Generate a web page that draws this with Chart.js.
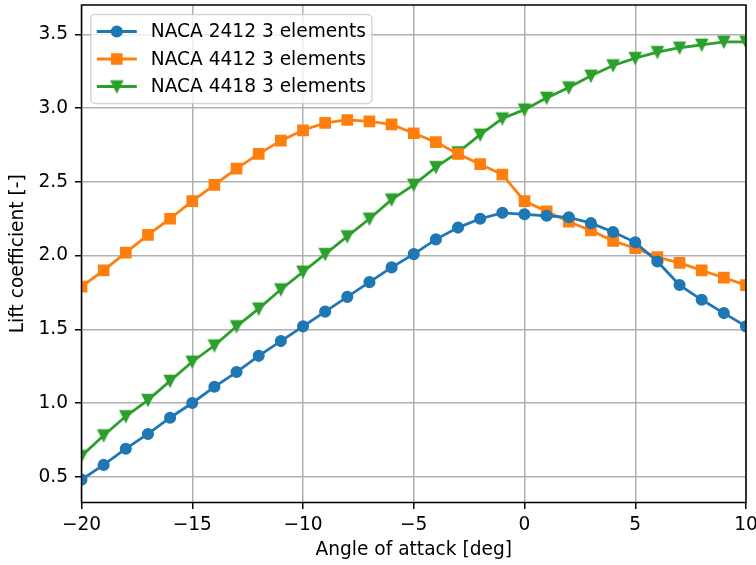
<!DOCTYPE html>
<html>
<head>
<meta charset="utf-8">
<script src="https://cdn.jsdelivr.net/npm/chart.js@4/dist/chart.umd.min.js"></script>
<style>
	body { margin: 0; background: #ffffff; }
	canvas { display: block; }
</style>
</head>
<body>
<canvas id="chart" width="756" height="565"></canvas>
<script>

const angles = [-20, -19, -18, -17, -16, -15, -14, -13, -12, -11, -10, -9, -8, -7, -6, -5, -4, -3, -2, -1, 0, 1, 2, 3, 4, 5, 6, 7, 8, 9, 10];

const naca2412 = [0.48, 0.58, 0.69, 0.79, 0.90, 1.00, 1.11, 1.21, 1.32, 1.42, 1.52, 1.62, 1.72, 1.82, 1.92, 2.01, 2.11, 2.19, 2.25, 2.29, 2.28, 2.27, 2.26, 2.22, 2.16, 2.09, 1.96, 1.80, 1.70, 1.61, 1.52];
const naca4412 = [1.79, 1.90, 2.02, 2.14, 2.25, 2.37, 2.48, 2.59, 2.69, 2.78, 2.85, 2.90, 2.92, 2.91, 2.89, 2.83, 2.77, 2.69, 2.62, 2.55, 2.37, 2.30, 2.23, 2.17, 2.10, 2.05, 1.99, 1.95, 1.90, 1.85, 1.80];
const naca4418 = [0.64, 0.78, 0.91, 1.02, 1.15, 1.28, 1.39, 1.52, 1.64, 1.77, 1.89, 2.01, 2.13, 2.25, 2.38, 2.48, 2.60, 2.70, 2.82, 2.93, 2.99, 3.07, 3.14, 3.22, 3.29, 3.34, 3.38, 3.41, 3.43, 3.45, 3.45];

const seriesLabels = ['NACA 2412 3 elements', 'NACA 4412 3 elements', 'NACA 4418 3 elements'];
const seriesValues = [naca2412, naca4412, naca4418];

const xLabel = 'Angle of attack [deg]';
const yLabel = 'Lift coefficient [-]';

const colors = ['#1f77b4', '#ff7f0e', '#2ca02c'];
const font = 'DejaVu Sans';
const fontSize = 18.6;

// down triangle like matplotlib 'v' (box centred on the point)
function triangleDown(color) {
	const c = document.createElement('canvas');
	c.width = 16;
	c.height = 16;
	const ctx = c.getContext('2d');
	const h = 5.6;
	ctx.beginPath();
	ctx.moveTo(8 - h, 8 - h);
	ctx.lineTo(8 + h, 8 - h);
	ctx.lineTo(8, 8 + h);
	ctx.closePath();
	ctx.fillStyle = color;
	ctx.strokeStyle = color;
	ctx.lineWidth = 1.5;
	ctx.fill();
	ctx.stroke();
	return c;
}

const markers = [
	{ style: 'circle', radius: 5.3 },
	{ style: 'rect', radius: 7.2 },
	{ style: triangleDown(colors[2]), radius: 6 }
];

function drawMarker(ctx, style, x, y, r, color) {
	if(style instanceof HTMLCanvasElement) {
		ctx.drawImage(style, x - style.width / 2, y - style.height / 2);
		return;
	}
	ctx.beginPath();
	if(style === 'circle') {
		ctx.arc(x, y, r, 0, Math.PI * 2);
	} else {
		let s = Math.SQRT1_2 * r;
		ctx.rect(x - s, y - s, 2 * s, 2 * s);
	}
	ctx.fillStyle = color;
	ctx.strokeStyle = color;
	ctx.lineWidth = 1.5;
	ctx.fill();
	ctx.stroke();
}

const framePlugin = {
	id: 'frame',
	afterDatasetsDraw(chart) {
		const ctx = chart.ctx;
		const a = chart.chartArea;
		ctx.save();
		ctx.strokeStyle = '#000000';
		ctx.lineWidth = 1.5;
		ctx.strokeRect(a.left, a.top, a.right - a.left, a.bottom - a.top);
		ctx.restore();
	}
};

const legendPlugin = {
	id: 'legendBox',
	afterDraw(chart) {
		const ctx = chart.ctx;
		const a = chart.chartArea;
		const x0 = a.left + 9.3;
		const y0 = a.top + 9.5;
		const w = 281;
		const h = 89;

		ctx.save();
		ctx.beginPath();
		ctx.roundRect(x0, y0, w, h, 4);
		ctx.fillStyle = 'rgba(255,255,255,0.8)';
		ctx.fill();
		ctx.strokeStyle = 'rgba(204,204,204,0.8)';
		ctx.lineWidth = 1.5;
		ctx.stroke();

		chart.data.datasets.forEach((ds, i) => {
			const cy = y0 + 17 + i * 27.5;
			ctx.beginPath();
			ctx.moveTo(x0 + 6, cy);
			ctx.lineTo(x0 + 46, cy);
			ctx.strokeStyle = ds.borderColor;
			ctx.lineWidth = 2.8;
			ctx.stroke();
			drawMarker(ctx, markers[i].style, x0 + 26, cy, markers[i].radius, ds.borderColor);

			ctx.fillStyle = '#000000';
			ctx.font = fontSize + 'px "' + font + '"';
			ctx.textBaseline = 'middle';
			ctx.textAlign = 'left';
			ctx.fillText(ds.label, x0 + 60, cy + 1);
		});
		ctx.restore();
	}
};

let datasets = [];

seriesValues.forEach((values, key) => {
	datasets[datasets.length] = {
		label: seriesLabels[key],
		data: angles.map((a, i) => ({ x: a, y: values[i] })),
		borderColor: colors[key],
		backgroundColor: colors[key],
		borderWidth: 2.8,
		pointStyle: markers[key].style,
		pointRadius: markers[key].radius,
		pointBorderWidth: 1.5,
		pointBackgroundColor: colors[key],
		pointBorderColor: colors[key],
		tension: 0,
		clip: 0
	};
});

const gridStyle = {
	color: '#b0b0b0',
	lineWidth: 1.5,
	drawTicks: true,
	tickLength: 6.5,
	tickColor: '#000000',
	tickWidth: 1.5
};

new Chart(document.getElementById('chart'), {
	type: 'line',
	data: {
		datasets: datasets
	},
	plugins: [framePlugin, legendPlugin],
	options: {
		responsive: false,
		animation: false,
		layout: {
			autoPadding: false,
			padding: { left: 0, right: 10, top: 5, bottom: 0 }
		},
		scales: {
			x: {
				type: 'linear',
				min: -20,
				max: 10,
				afterFit: function(scale) {
					scale.height = 62.5;
					scale.paddingLeft = 0;
					scale.paddingRight = 0;
				},
				border: { display: false },
				grid: gridStyle,
				ticks: {
					stepSize: 5,
					padding: 5,
					color: '#000000',
					maxRotation: 0,
					font: { family: font, size: fontSize },
					callback: function(value) {
						return String(value).replace('-', '\u2212');
					}
				},
				title: {
					display: true,
					text: xLabel,
					color: '#000000',
					font: { family: font, size: fontSize },
					padding: { top: 0, bottom: 3.5 }
				}
			},
			y: {
				type: 'linear',
				min: 0.325,
				max: 3.70,
				afterFit: function(scale) {
					scale.width = 81.5;
					scale.paddingTop = 0;
					scale.paddingBottom = 0;
				},
				afterBuildTicks: function(scale) {
					scale.ticks = scale.ticks.filter(t => Math.abs(t.value * 2 - Math.round(t.value * 2)) < 1e-6);
				},
				border: { display: false },
				grid: gridStyle,
				ticks: {
					stepSize: 0.5,
					padding: 7,
					color: '#000000',
					font: { family: font, size: fontSize },
					callback: function(value) {
						return value.toFixed(1);
					}
				},
				title: {
					display: true,
					text: yLabel,
					color: '#000000',
					font: { family: font, size: fontSize },
					padding: { top: 7, bottom: 0 }
				}
			}
		},
		plugins: {
			legend: { display: false },
			tooltip: { enabled: false }
		}
	}
});

</script>
</body>
</html>
